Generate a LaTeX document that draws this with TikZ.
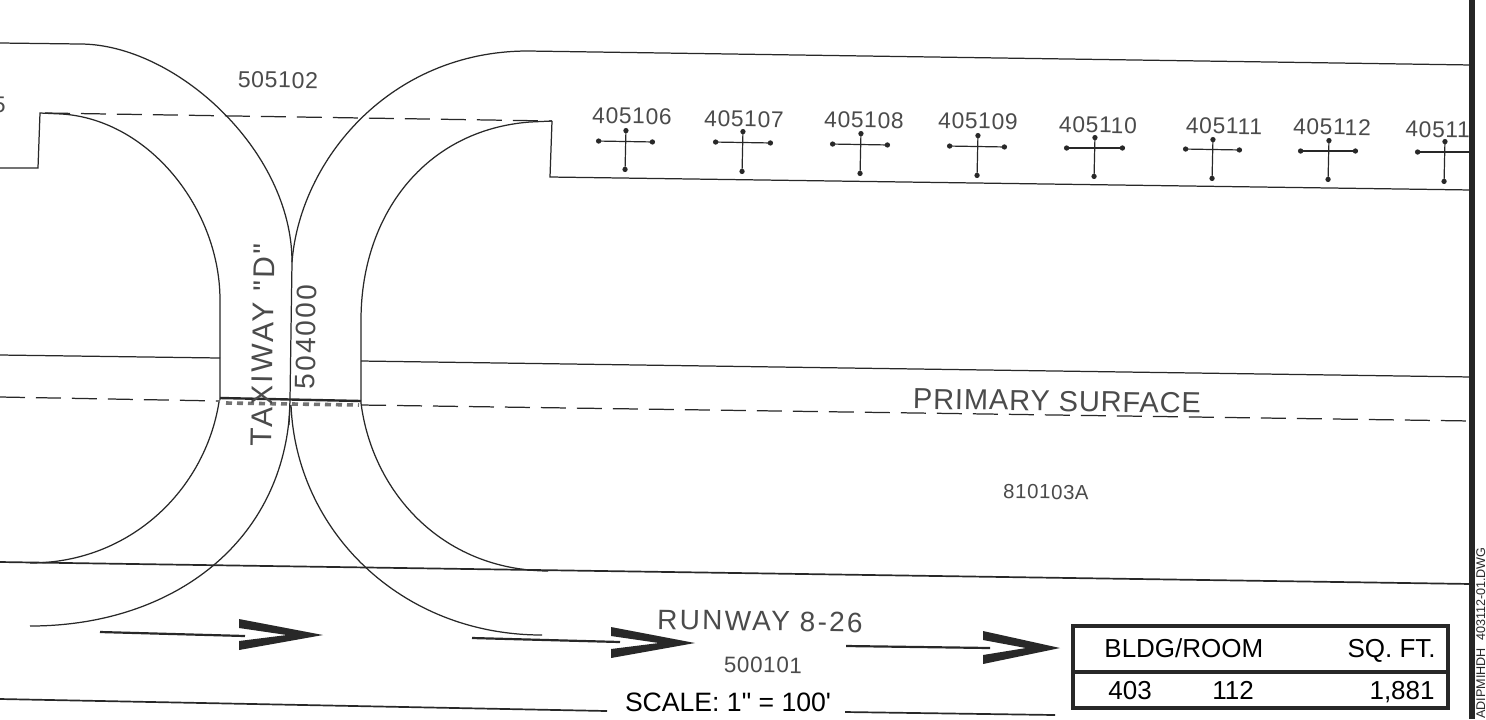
\documentclass[tikz,border=0pt]{standalone}
\usepackage{fontspec}
\usetikzlibrary{arrows.meta}
\newfontfamily\cadfont{Liberation Sans}
\newfontfamily\cadtight[LetterSpace=3]{Liberation Sans}
\newfontfamily\cadwide[LetterSpace=8]{Liberation Sans}
\definecolor{ink}{RGB}{40, 40, 40}
\definecolor{pencil}{RGB}{75, 75, 75}
\definecolor{stipple}{RGB}{115, 115, 115}
\tikzset{
  plan/.style={draw=ink, line width=0.62pt},
  heavy/.style={draw=ink, line width=0.85pt},
  dashline/.style={draw=ink, line width=0.62pt, dash pattern=on 12.5pt off 5.5pt},
  signpost/.style={draw=ink, line width=0.6pt, {Circle[length=2.6pt]}-{Circle[length=2.6pt]}},
  flow/.style={draw=ink, line width=1.1pt},
  chevron/.style={fill=ink, draw=none},
  tag/.style={text=pencil, inner sep=0pt, rotate=-0.9, font=\cadtight\fontsize{11.4}{13}\selectfont},
  arealabel/.style={text=pencil, inner sep=0pt, rotate=-0.9},
  cell/.style={text=black, inner sep=0pt, font=\cadfont\fontsize{13}{15}\selectfont}
}
\begin{document}
\begin{tikzpicture}[x=0.5pt,y=-0.5pt]
  \clip (0,0) rectangle (1486,719);
  \fill[white] (0,0) rectangle (1486,719);

  % Apron edges
  \draw[plan] (0,43) -- (80,44) .. controls (175,44) and (292,150) .. (292,262);
  \draw[plan] (292,262) .. controls (300,160) and (390,51) .. (528,51) -- (1472,65);
  \draw[plan] (0,168) -- (38,168) -- (40,113) -- (62,114) .. controls (150,120) and (220,210) .. (220,300) -- (220,400);
  \draw[plan] (552,121) -- (530,122) .. controls (425,130) and (361,215) .. (361,320) -- (361,403);
  \draw[plan] (552,121) -- (550,177) -- (1472,190);

  % Taxiway centre
  \draw[plan] (292,262) -- (290,400) -- (289,425);

  % Lower fillets
  \draw[plan] (219,402) .. controls (205,490) and (130,563) .. (30,563);
  \draw[plan] (361,403) .. controls (372,490) and (440,570) .. (548,571);
  \draw[plan] (290,405) .. controls (285,540) and (175,626) .. (30,626);
  \draw[plan] (291,405) .. controls (296,530) and (400,635) .. (542,635);

  % Surface lines
  \draw[plan] (0,355) -- (220,358);
  \draw[plan] (361,361) -- (1472,377);
  \draw[heavy] (0,562) -- (1472,584);
  \draw[heavy] (0,699) -- (607,711);
  \draw[heavy] (845,712) -- (1055,715);
  \draw[dashline] (45,113) -- (552,121);
  \draw[dashline] (0,397) -- (220,401);
  \draw[dashline] (361,405) -- (1472,421);

  % Hold line
  \draw[ink, line width=1.2pt] (220,398) -- (361,401);
  \draw[stipple, line width=1.8pt, dash pattern=on 3pt off 2.5pt] (226,403) -- (359,405);

  % Signs
  \draw[signpost] (596,141) -- (655,142);
  \draw[signpost] (626,128) -- (625,172);
  \draw[signpost] (713,142) -- (773,143);
  \draw[signpost] (743,129) -- (742,174);
  \draw[signpost] (830,144) -- (890,145);
  \draw[signpost] (861,131) -- (860,176);
  \draw[signpost] (947,146) -- (1007,147);
  \draw[signpost] (978,133) -- (977,178);
  \draw[signpost] (1064,148) -- (1125,148);
  \draw[signpost] (1095,135) -- (1094,179);
  \draw[signpost] (1183,149) -- (1242,150);
  \draw[signpost] (1213,137) -- (1212,181);
  \draw[signpost] (1298,151) -- (1358,151);
  \draw[signpost] (1329,138) -- (1328,182);
  \draw[signpost, {Circle[length=2.6pt]}-] (1415,152) -- (1472,152);
  \draw[signpost] (1445,139) -- (1444,184);

  % Sign labels
  \node[tag] (sign06) at (632,116) {405106};
  \node[tag] (sign07) at (744,119) {405107};
  \node[tag] (sign08) at (864,120) {405108};
  \node[tag] (sign09) at (978,121) {405109};
  \node[tag] (sign10) at (1098,125) {405110};
  \node[tag] (sign11) at (1224,126) {405111};
  \node[tag] (sign12) at (1332,127) {405112};
  \node[tag, anchor=west] (sign13) at (1405,129) {40511};
  \node[tag, anchor=east] (sign05) at (6,105) {5};

  % Direction arrows
  \draw[flow] (100,632) -- (245,636);
  \fill[chevron] (239,619) -- (323,635) -- (239,650) -- (239,641) -- (287,635) -- (239,628) -- cycle;
  \draw[flow] (472,638) -- (620,642);
  \fill[chevron] (611,627) -- (695,643) -- (611,658) -- (611,649) -- (659,643) -- (611,636) -- cycle;
  \draw[flow] (846,646) -- (990,648);
  \fill[chevron] (983,631) -- (1060,648) -- (983,664) -- (983,655) -- (1026,648) -- (983,640) -- cycle;

  % Area labels
  \node[arealabel, font=\cadtight\fontsize{11.5}{14}\selectfont] (area102) at (278,80) {505102};
  \node[arealabel, font=\cadtight\fontsize{10.2}{12}\selectfont] (area103) at (1046,492) {810103A};
  \node[arealabel, font=\cadtight\fontsize{11.2}{14}\selectfont] (area101) at (763,665) {500101};
  \node[arealabel, font=\cadwide\fontsize{14}{16}\selectfont] (runway) at (760,621) {RUNWAY 8-26};
  \node[arealabel, font=\cadtight\fontsize{14.5}{16}\selectfont] (primary) at (1057,401) {PRIMARY SURFACE};
  \node[arealabel, rotate=90, font=\cadwide\fontsize{15}{17}\selectfont] (taxiway) at (263,345) {TAXIWAY "D"};
  \node[arealabel, rotate=90, font=\cadwide\fontsize{14}{16}\selectfont] (area000) at (306,337) {504000};
  \node[cell, font=\cadfont\fontsize{13.3}{15}\selectfont] (scale) at (728,702) {SCALE: 1" = 100'};

  % Room table
  \draw[ink, line width=2pt] (1073,626) rectangle (1448,708);
  \draw[ink, line width=2pt] (1073,672) -- (1448,672);
  \node[cell, anchor=base west] (bldg) at (1104,657) {BLDG/ROOM};
  \node[cell, anchor=base east] (sqft) at (1436,657) {SQ. FT.};
  \node[cell, anchor=base west] (bldgno) at (1108,699) {403};
  \node[cell, anchor=base west] (roomno) at (1212,699) {112};
  \node[cell, anchor=base east] (area) at (1435,699) {1,881};

  % Sheet border
  \draw[black!85, line width=2.6pt] (1472,0) -- (1472,719);
  \node[anchor=west, rotate=90, inner sep=0pt, text=ink, font=\cadfont\fontsize{6.3}{7}\selectfont] (drawing) at (1482,719) {ADIPMIHDH\_403112-01.DWG};
\end{tikzpicture}
\end{document}
